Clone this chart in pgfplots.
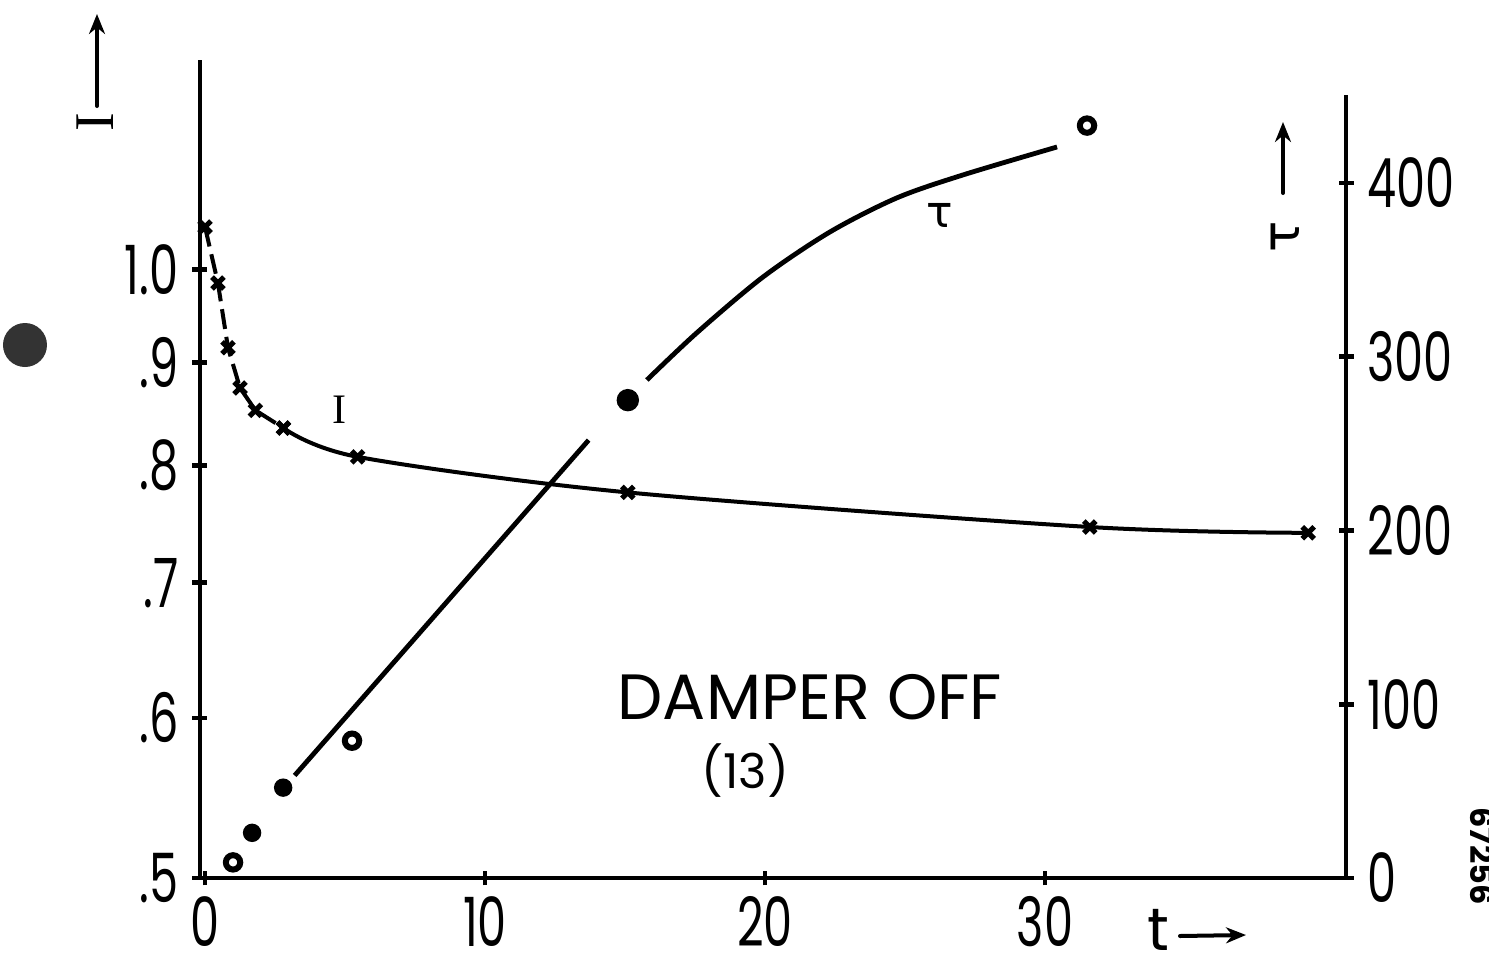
\documentclass[border=0pt]{standalone}
\usepackage{pgfplots}
\pgfplotsset{compat=1.18}
\usepackage{fontspec}
\setmainfont{Poppins}
\newfontfamily\tickfont[FakeStretch=0.68]{Poppins}
\newfontfamily\grk{DejaVu Sans}
\newfontfamily\serif{Liberation Serif}
\usetikzlibrary{arrows.meta}

\pgfplotsset{
  common/.style={
    at={(0,0)}, anchor=south west, scale only axis,
    width=286.5pt, xmin=-0.18, xmax=40.75,
    tick align=outside, major tick length=3.75pt,
    tick style={line width=1.2pt, black},
    tick label style={font=\tickfont\fontsize{17}{17}\selectfont},
    clip=false,
  },
  noarrows/.style={
    axis line style={-, line width=1.2pt},
    every outer x axis line/.append style={-},
    every outer y axis line/.append style={-},
    every inner x axis line/.append style={-},
    every inner y axis line/.append style={-},
  }
}

\begin{document}
\begin{tikzpicture}[line cap=round]
\useasboundingbox (-50pt,-22.25pt) rectangle (322.25pt,219.5pt);

% ---------- left axis: I (logarithmic) ----------
\begin{axis}[common, height=204.5pt,
  ymode=log, ymin=0.5, ymax=1.27,
  axis x line=bottom, axis y line=left, noarrows,
  xtick={0,10,20,30}, xticklabels={0,10,20,30},
  xticklabel style={inner sep=0pt, yshift=-2.5pt},
  ytick={0.5,0.6,0.7,0.8,0.9,1.0}, yticklabels={.5,.6,.7,.8,.9,1.0},
  minor ytick={}, minor xtick={},
]
\addplot[line width=1pt, dash pattern=on 5pt off 2pt, mark=x, mark size=2.1pt,
  mark options={solid, line width=1.3pt}]
  coordinates {(0,1.05)(0.46,0.985)(0.82,0.915)(1.25,0.874)(1.8,0.852)(2.8,0.835)};
\addplot[line width=1pt, solid, smooth, tension=0.5, mark=x, mark size=2.1pt,
  mark options={solid, line width=1.3pt}]
  coordinates {(2.8,0.835)(5.45,0.808)(15.1,0.776)(31.6,0.746)(39.4,0.741)};
\node[font=\serif\fontsize{10.5}{10.5}\selectfont] at (axis cs:4.8,0.853) {I};
\end{axis}

% ---------- right axis: tau (linear) ----------
\begin{axis}[common, height=195.75pt,
  ymin=0, ymax=450.6,
  axis x line=none, axis y line=right, noarrows,
  ytick={0,100,200,300,400}, yticklabels={0,100,200,300,400},
  minor ytick={},
]
\addplot[line width=1.2pt] coordinates {(3.2,59)(13.7,252)};
\addplot[line width=1.2pt, smooth] coordinates
  {(15.78,286.6)(17.56,313.7)(19.93,345.9)(22.32,371.8)(24.71,391.4)(27.07,404.6)(30.43,420.7)};
\addplot[only marks, mark=*, mark size=1.8pt, mark options={fill=white, line width=1.5pt}]
  coordinates {(1.0,9)(5.25,79)(31.5,433)};
\addplot[only marks, mark=*, mark size=2.1pt] coordinates {(1.68,26)(2.79,52)};
\addplot[only marks, mark=*, mark size=2.6pt] coordinates {(15.1,275)};
\node[font=\fontsize{16}{16}\selectfont] at (axis cs:21.6,104) {DAMPER OFF};
\node[font=\fontsize{12}{12}\selectfont] at (axis cs:19.3,62) {(13)};
\node[font=\grk\fontsize{11}{11}\selectfont] at (axis cs:26.25,381) {τ};
\end{axis}

% ---------- axis names and arrows ----------
\node[font=\serif\fontsize{14}{14}\selectfont, rotate=90] at (-26.25pt,189pt) {I};
\draw[line width=1pt, -{Stealth[length=5pt,width=4pt]}] (-25.75pt,193pt) -- (-25.75pt,216pt);
\node[font=\grk\fontsize{13}{13}\selectfont, rotate=90] at (271.25pt,160.25pt) {τ};
\draw[line width=1pt, -{Stealth[length=5pt,width=4pt]}] (270.75pt,171.25pt) -- (270.75pt,189pt);
\node[font=\fontsize{15}{15}\selectfont, inner sep=0pt] at (239.5pt,-13pt) {t};
\draw[line width=1pt, -{Stealth[length=5pt,width=4pt]}] (245pt,-14.5pt) -- (261.5pt,-14.25pt);

% punched hole and archive number
\fill[black!80] (-43.75pt,133.25pt) circle (5.5pt);
\node[font=\bfseries\fontsize{8}{8}\selectfont, rotate=-90] at (320.5pt,5.5pt) {67256};
\end{tikzpicture}
\end{document}
